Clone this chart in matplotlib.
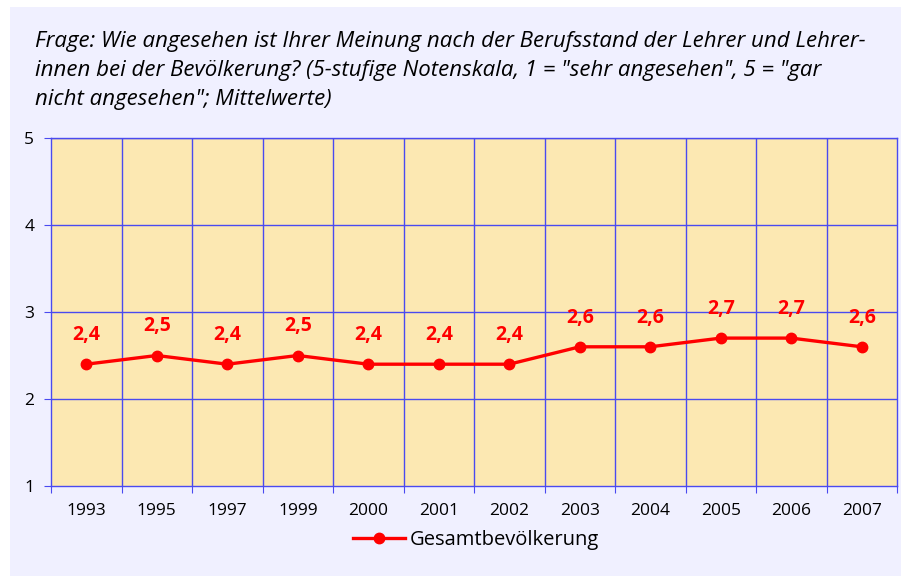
import matplotlib
matplotlib.use("Agg")
import matplotlib.pyplot as plt
from matplotlib.patches import Rectangle
import numpy as np

years = ["1993", "1995", "1997", "1999", "2000", "2001", "2002", "2003", "2004", "2005", "2006", "2007"]
values = [2.4, 2.5, 2.4, 2.5, 2.4, 2.4, 2.4, 2.6, 2.6, 2.7, 2.7, 2.6]
labels = ["2,4", "2,5", "2,4", "2,5", "2,4", "2,4", "2,4", "2,6", "2,6", "2,7", "2,7", "2,6"]
yticks = [1, 2, 3, 4, 5]
series_name = "Gesamtbevölkerung"
title = ("Frage: Wie angesehen ist Ihrer Meinung nach der Berufsstand der Lehrer und Lehrer-\n"
         "innen bei der Bevölkerung? (5-stufige Notenskala, 1 = \"sehr angesehen\", 5 = \"gar\n"
         "nicht angesehen\"; Mittelwerte)")

plt.rcParams['font.family'] = ['Open Sans', 'DejaVu Sans']

W, H = 901, 576
fig = plt.figure(figsize=(W/100, H/100), dpi=100)
fig.patch.set_facecolor("white")
fig.patches.append(Rectangle((10/W, 0), 1, 1 - 7/H, transform=fig.transFigure,
                             facecolor="#F0F0FF", edgecolor="none", zorder=-10))

left, right, top, bottom = 51, 897, 138, 486
ax = fig.add_axes([left/W, 1 - bottom/H, (right-left)/W, (bottom-top)/H])
ax.set_facecolor("#FCE8B2")

x = np.arange(len(years))
ax.set_xlim(-0.5, len(years) - 0.5)
ax.set_ylim(1, 5)

grid_c = "#4A4AF0"
for b in np.arange(0.5, len(years) - 0.5, 1):
    ax.axvline(b, color=grid_c, lw=1.0, zorder=1)
for yv in yticks[1:]:
    ax.axhline(yv, color=grid_c, lw=1.0, zorder=1)
for s in ax.spines.values():
    s.set_color(grid_c)
    s.set_linewidth(1.0)

ax.set_yticks(yticks)
ax.set_yticklabels([str(v) for v in yticks], fontsize=12.5)
ax.set_xticks(np.arange(-0.5, len(years), 1))
ax.set_xticklabels([])
ax.set_xticks(x, minor=True)
ax.set_xticklabels(years, minor=True, fontsize=12.5)
ax.tick_params(axis='x', which='minor', length=0, pad=12)
ax.tick_params(axis='x', which='major', length=5, color=grid_c, direction='out')
ax.tick_params(axis='y', length=5, color=grid_c, direction='out', pad=7)

ax.plot(x, values, color="#FF0000", lw=2.4, marker="o", markersize=7.5,
        zorder=3, label=series_name, clip_on=False)
for xi, v, lab in zip(x, values, labels):
    ax.annotate(lab, (xi, v), xytext=(0, 21), textcoords="offset points",
                ha="center", va="center", color="#FF0000", fontsize=14,
                fontweight="bold")

fig.text(35/W, 1 - 31/H, title, ha="left", va="top", fontsize=16,
         style="italic", linespacing=1.5)

leg = fig.legend(loc="center", bbox_to_anchor=(476/W, 1 - 540/H), frameon=False,
                 fontsize=14.5, handlelength=2.6, handletextpad=0.25)

fig.savefig("out.png", dpi=100, facecolor=fig.get_facecolor())
